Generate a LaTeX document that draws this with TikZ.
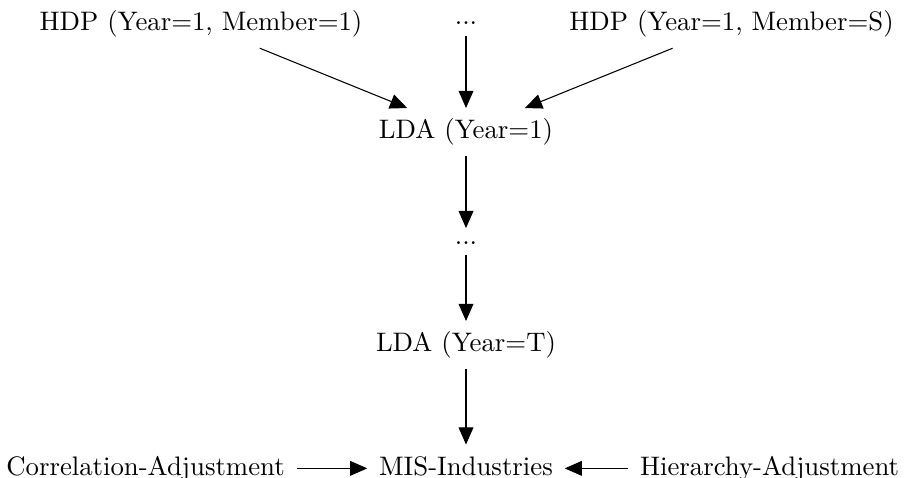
\documentclass[tikz,border=0pt]{standalone}
\usetikzlibrary{arrows.meta}
\begin{document}
\begin{tikzpicture}[x=0.3774pt, y=-0.3774pt,
  lbl/.style={anchor=base, inner xsep=4.5pt, inner ysep=4pt, outer sep=0pt, text height=7.5pt, text depth=2.5pt, font=\fontsize{10.1}{12}\selectfont},
  dotsnode/.style={anchor=base, inner xsep=3pt, inner ysep=3pt, outer sep=0pt, text height=3pt, text depth=1pt, font=\fontsize{10.1}{12}\selectfont},
  edge/.style={draw, line width=0.4pt, -{Triangle[length=6.5pt,width=5.6pt]}}]
\useasboundingbox (0,0) rectangle (904,478);
\node[lbl] (hdp1) at (201,31) {HDP (Year=1, Member=1)};
\node[dotsnode] (d1) at (466,25) {...};
\node[lbl] (hdps) at (731.5,31) {HDP (Year=1, Member=S)};
\node[lbl] (lda1) at (466,138.5) {LDA (Year=1)};
\node[dotsnode] (d2) at (466,244) {...};
\node[lbl] (ldat) at (466,351.5) {LDA (Year=T)};
\node[lbl] (mis) at (466,475) {MIS-Industries};
\node[lbl] (corr) at (145.5,475) {Correlation-Adjustment};
\node[lbl] (hier) at (769.5,475) {Hierarchy-Adjustment};
\draw[edge] (hdp1) -- (lda1);
\draw[edge] (d1) -- (lda1);
\draw[edge] (hdps) -- (lda1);
\draw[edge] (lda1) -- (d2);
\draw[edge] (d2) -- (ldat);
\draw[edge] (ldat) -- (mis);
\draw[edge] (corr) -- (mis);
\draw[edge] (hier) -- (mis);
\end{tikzpicture}
\end{document}
